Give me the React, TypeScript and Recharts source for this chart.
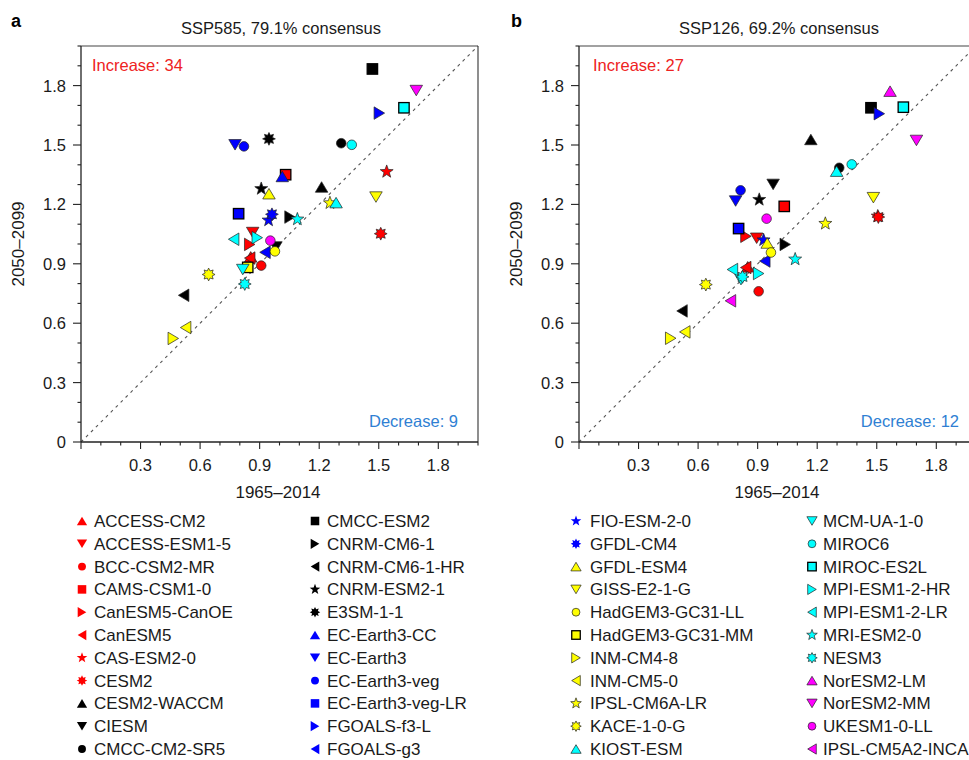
import { ScatterChart, Scatter, XAxis, YAxis, ReferenceLine } from "recharts";

const FONT = '"Liberation Sans", Arial, Helvetica, sans-serif';
const AXIS = "#222";
const TEXT = "#1a1a1a";
const DIAG = "#555";
const INC = "#ee2222";
const DEC = "#2f7fd3";

// models, in legend order
const MODELS = [
  "ACCESS-CM2", "ACCESS-ESM1-5", "BCC-CSM2-MR", "CAMS-CSM1-0", "CanESM5-CanOE", "CanESM5",
  "CAS-ESM2-0", "CESM2", "CESM2-WACCM", "CIESM", "CMCC-CM2-SR5", "CMCC-ESM2",
  "CNRM-CM6-1", "CNRM-CM6-1-HR", "CNRM-ESM2-1", "E3SM-1-1", "EC-Earth3-CC", "EC-Earth3",
  "EC-Earth3-veg", "EC-Earth3-veg-LR", "FGOALS-f3-L", "FGOALS-g3", "FIO-ESM-2-0", "GFDL-CM4",
  "GFDL-ESM4", "GISS-E2-1-G", "HadGEM3-GC31-LL", "HadGEM3-GC31-MM", "INM-CM4-8", "INM-CM5-0",
  "IPSL-CM6A-LR", "KACE-1-0-G", "KIOST-ESM", "MCM-UA-1-0", "MIROC6", "MIROC-ES2L",
  "MPI-ESM1-2-HR", "MPI-ESM1-2-LR", "MRI-ESM2-0", "NESM3", "NorESM2-LM", "NorESM2-MM",
  "UKESM1-0-LL", "IPSL-CM5A2-INCA",
];

const KIND_CYCLE = ["up", "down", "circle", "square", "right", "left", "star", "burst"];
const KINDS = [
  ...KIND_CYCLE, ...KIND_CYCLE, ...KIND_CYCLE, ...KIND_CYCLE, ...KIND_CYCLE,
  "up", "down", "circle", "left",
];
const GROUP_COLORS = ["#ff0000", "#000000", "#0000ff", "#ffff00", "#00ffff", "#ff00ff"];
const COLORS = MODELS.map((_, i) => GROUP_COLORS[Math.floor(i / 8)]);

// SSP585: 1965–2014 (x) vs 2050–2099 (y)
const SSP585_X = [
  0.855, 0.865, 0.908, 1.031, 0.85, 0.85, 1.54, 1.51, 1.212, 0.982, 1.311, 1.468,
  1.053, 0.517, 0.908, 0.947, 1.014, 0.776, 0.821, 0.794, 1.503, 0.927, 0.945, 0.962,
  0.947, 1.486, 0.977, 0.84, 0.465, 0.527, 1.254, 0.643, 1.285, 0.815, 1.364, 1.627,
  0.888, 0.769, 1.09, 0.825, null, 1.689, 0.954, null,
];
const SSP585_Y = [
  0.935, 1.058, 0.891, 1.35, 0.998, 0.929, 1.365, 1.052, 1.288, 0.985, 1.509, 1.884,
  1.136, 0.741, 1.279, 1.531, 1.341, 1.501, 1.493, 1.153, 1.661, 0.958, 1.12, 1.15,
  1.254, 1.237, 0.963, 0.882, 0.523, 0.578, 1.207, 0.846, 1.209, 0.871, 1.501, 1.688,
  1.032, 1.024, 1.125, 0.798, null, 1.775, 1.017, null,
];

// SSP126
const SSP126_X = [
  0.85, 0.895, 0.905, 1.034, 0.841, 0.84, 1.505, 1.508, 1.168, 0.978, 1.311, 1.471,
  1.039, 0.519, 0.908, null, null, 0.789, 0.814, 0.804, 1.513, 0.936, 0.93, null,
  0.948, 1.483, 0.967, null, 0.462, 0.533, 1.241, 0.639, 1.298, 0.816, 1.374, 1.634,
  0.905, 0.773, 1.089, 0.824, 1.567, 1.7, 0.945, 0.763,
];
const SSP126_Y = [
  0.885, 1.029, 0.761, 1.19, 1.039, 0.881, 1.14, 1.136, 1.528, 1.301, 1.385, 1.688,
  0.998, 0.662, 1.224, null, null, 1.217, 1.271, 1.078, 1.658, 0.914, 1.02, null,
  1.005, 1.234, 0.957, null, 0.524, 0.556, 1.103, 0.795, 1.368, 0.82, 1.402, 1.691,
  0.851, 0.871, 0.923, 0.834, 1.772, 1.523, 1.128, 0.713,
];

const TICKS = [0, 0.1, 0.2, 0.3, 0.4, 0.5, 0.6, 0.7, 0.8, 0.9, 1, 1.1, 1.2, 1.3, 1.4, 1.5, 1.6, 1.7, 1.8, 1.9, 2];
const MAJOR = [0, 0.3, 0.6, 0.9, 1.2, 1.5, 1.8];

const isMajor = (v: number) => MAJOR.some((m) => Math.abs(m - v) < 1e-6);
const fmt = (v: number) => (v === 0 ? "0" : v.toFixed(1));

function Marker({ cx, cy, kind, fill, s = 1, stroke = "#222", sw = 0.7, box = "#000" }: any) {
  const common = { fill, stroke, strokeWidth: sw };
  const w = 12.5 * s;
  const h = 10.5 * s;
  const pts = (arr: number[][]) => arr.map((p) => p.join(",")).join(" ");
  switch (kind) {
    case "circle":
      return <circle cx={cx} cy={cy} r={4.8 * s} {...common} />;
    case "square": {
      const a = 5.2 * s;
      return <rect x={cx - a} y={cy - a} width={2 * a} height={2 * a} fill={fill} stroke={box} strokeWidth={1.3} />;
    }
    case "up":
      return <polygon points={pts([[cx, cy - h / 2], [cx + w / 2, cy + h / 2], [cx - w / 2, cy + h / 2]])} {...common} />;
    case "down":
      return <polygon points={pts([[cx, cy + h / 2], [cx + w / 2, cy - h / 2], [cx - w / 2, cy - h / 2]])} {...common} />;
    case "right":
      return <polygon points={pts([[cx + h / 2, cy], [cx - h / 2, cy - w / 2], [cx - h / 2, cy + w / 2]])} {...common} />;
    case "left":
      return <polygon points={pts([[cx - h / 2, cy], [cx + h / 2, cy - w / 2], [cx + h / 2, cy + w / 2]])} {...common} />;
    case "star":
    case "burst": {
      const n = kind === "star" ? 5 : 8;
      const ro = (kind === "star" ? 6.8 : 6.4) * s;
      const ri = (kind === "star" ? 2.8 : 3.8) * s;
      const p: number[][] = [];
      for (let k = 0; k < n * 2; k++) {
        const r = k % 2 === 0 ? ro : ri;
        const ang = -Math.PI / 2 + (k * Math.PI) / n;
        p.push([cx + r * Math.cos(ang), cy + r * Math.sin(ang)]);
      }
      return <polygon points={pts(p)} {...common} />;
    }
  }
  return null;
}

function YTick({ x, y, payload }: any) {
  const v = payload.value;
  const major = isMajor(v);
  return (
    <g>
      <line x1={x - (major ? 8 : 3.5)} x2={x} y1={y} y2={y} stroke={AXIS} strokeWidth={1.1} />
      {major && (
        <text x={x - 15} y={y + 6} textAnchor="end" fontSize={16.5} fill={TEXT}>
          {fmt(v)}
        </text>
      )}
    </g>
  );
}

function XTick({ x, y, payload }: any) {
  const v = payload.value;
  const major = isMajor(v);
  return (
    <g>
      <line x1={x} x2={x} y1={y} y2={y + (major ? 7 : 3.5)} stroke={AXIS} strokeWidth={1.1} />
      {major && v !== 0 && (
        <text x={x} y={y + 28.5} textAnchor="middle" fontSize={16.5} fill={TEXT}>
          {fmt(v)}
        </text>
      )}
    </g>
  );
}

const buildPoints = (xs: (number | null)[], ys: (number | null)[]) =>
  MODELS.map((name, i) =>
    xs[i] == null ? null : { name, x: xs[i], y: ys[i], kind: KINDS[i], color: COLORS[i] }
  ).filter(Boolean);

function Panel({ xs, ys, left }: any) {
  const data = buildPoints(xs, ys);
  return (
    <div style={{ position: "absolute", left, top: 0 }}>
      <ScatterChart width={490} height={500} margin={{ top: 46, right: 12, bottom: 18, left: 0 }}>
        <XAxis
          type="number"
          dataKey="x"
          domain={[0, 2]}
          ticks={TICKS}
          interval={0}
          tick={<XTick />}
          tickLine={false}
          tickSize={0}
          tickMargin={0}
          height={40}
          axisLine={{ stroke: AXIS, strokeWidth: 1.3 }}
          allowDataOverflow
        />
        <YAxis
          type="number"
          dataKey="y"
          domain={[0, 2]}
          ticks={TICKS}
          interval={0}
          tick={<YTick />}
          tickLine={false}
          tickSize={0}
          tickMargin={0}
          width={81}
          axisLine={{ stroke: AXIS, strokeWidth: 1.3 }}
          allowDataOverflow
        />
        <ReferenceLine y={2} stroke="#444" strokeWidth={1.2} />
        <ReferenceLine x={2} stroke="#444" strokeWidth={1.2} />
        <ReferenceLine
          segment={[{ x: 0, y: 0 }, { x: 2, y: 2 }]}
          stroke={DIAG}
          strokeWidth={1.1}
          strokeDasharray="3 4"
        />
        <Scatter
          data={data}
          isAnimationActive={false}
          shape={(p: any) => (
            <Marker cx={p.cx} cy={p.cy} kind={p.payload.kind} fill={p.payload.color} />
          )}
        />
      </ScatterChart>
    </div>
  );
}

function LegendColumn({ ids, mx, tx }: any) {
  return (
    <g>
      {ids.map((i: number, r: number) => {
        const cy = 521 + r * 22.8;
        const light = COLORS[i] === "#ffff00" || COLORS[i] === "#00ffff" || COLORS[i] === "#ff00ff";
        return (
          <g key={MODELS[i]}>
            <Marker
              cx={mx}
              cy={cy}
              kind={KINDS[i]}
              fill={COLORS[i]}
              s={0.82}
              stroke={light ? "#222" : "none"}
              box={light ? "#000" : "none"}
              sw={0.7}
            />
            <text x={tx} y={cy + 6} fontSize={17} fill={TEXT}>
              {MODELS[i]}
            </text>
          </g>
        );
      })}
    </g>
  );
}

const range = (a: number, b: number) => Array.from({ length: b - a }, (_, k) => a + k);

export default function App() {
  return (
    <div
      style={{
        position: "fixed",
        left: 0,
        top: 0,
        width: 969,
        height: 760,
        overflow: "hidden",
        background: "#fff",
        fontFamily: FONT,
      }}
    >
      <Panel xs={SSP585_X} ys={SSP585_Y} left={0} />
      <Panel xs={SSP126_X} ys={SSP126_Y} left={498} />
      <svg
        width={969}
        height={760}
        style={{ position: "absolute", left: 0, top: 0, pointerEvents: "none", fontFamily: FONT }}
      >
        <text x={11} y={27} fontSize={18} fontWeight="bold" fill="#000">a</text>
        <text x={511} y={27} fontSize={18} fontWeight="bold" fill="#000">b</text>
        <text x={281} y={34} fontSize={16.5} textAnchor="middle" fill={TEXT}>SSP585, 79.1% consensus</text>
        <text x={779} y={34} fontSize={16.5} textAnchor="middle" fill={TEXT}>SSP126, 69.2% consensus</text>

        <text x={92} y={70.5} fontSize={16.5} fill={INC}>Increase: 34</text>
        <text x={593} y={70.5} fontSize={16.5} fill={INC}>Increase: 27</text>
        <text x={458} y={426.5} fontSize={16.5} textAnchor="end" fill={DEC}>Decrease: 9</text>
        <text x={959} y={426.5} fontSize={16.5} textAnchor="end" fill={DEC}>Decrease: 12</text>

        <text x={278} y={498} fontSize={17} textAnchor="middle" fill={TEXT}>1965–2014</text>
        <text x={777} y={498} fontSize={17} textAnchor="middle" fill={TEXT}>1965–2014</text>
        <text transform="translate(24,244) rotate(-90)" fontSize={17} textAnchor="middle" fill={TEXT}>2050–2099</text>
        <text transform="translate(522,244) rotate(-90)" fontSize={17} textAnchor="middle" fill={TEXT}>2050–2099</text>

        <LegendColumn ids={range(0, 11)} mx={82} tx={94} />
        <LegendColumn ids={range(11, 22)} mx={315} tx={327} />
        <LegendColumn ids={range(22, 33)} mx={576} tx={590} />
        <LegendColumn ids={range(33, 44)} mx={812} tx={823} />
      </svg>
    </div>
  );
}
